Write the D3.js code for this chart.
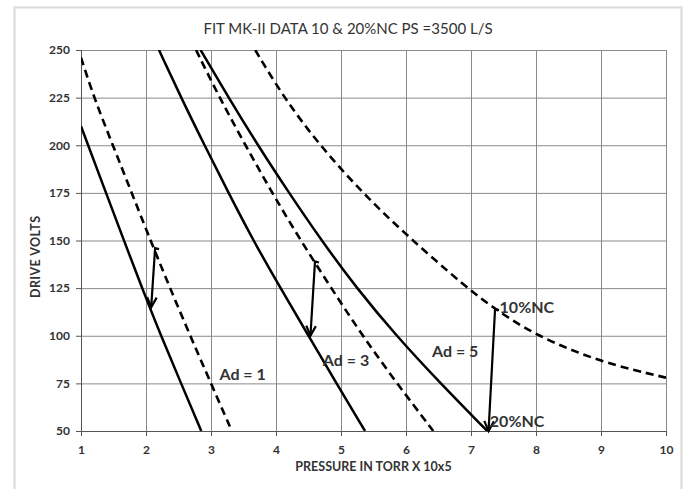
<!DOCTYPE html>
<html>
<head>
<meta charset="utf-8">
<script src="https://cdn.jsdelivr.net/npm/d3@7"></script>
<style>
  body { margin: 0; background: #fff; }
  text { font-family: Lato, "Open Sans", sans-serif; fill: #333; }
</style>
</head>
<body>
<svg width="688" height="489"></svg>
<script>
// tick values
var xTicks = [1, 2, 3, 4, 5, 6, 7, 8, 9, 10];
var yTicks = [50, 75, 100, 125, 150, 175, 200, 225, 250];

// curves  [pressure, volts]
var ad1Solid  = [[1,210],[1.33,180],[1.66,150],[1.94,125],[2.23,100],[2.54,75],[2.85,50]];
var ad1Dashed = [[1,246],[1.2,225],[1.49,200],[1.78,175],[2.07,150],[2.37,125],[2.68,100],[3.0,75],[3.32,50]];
var ad3Solid  = [[2.2,250],[2.54,225],[2.9,200],[3.27,175],[3.65,150],[4.07,125],[4.5,100],[4.93,75],[5.37,50]];
var ad3Dashed = [[2.77,250],[3.13,225],[3.53,200],[3.94,175],[4.38,150],[4.85,125],[5.33,100],[5.86,75],[6.42,50]];
var ad5Solid  = [[2.84,250],[3.27,225],[3.72,200],[4.2,175],[4.7,150],[5.24,125],[5.85,100],[6.53,75],[7.25,50]];
var ad5Dashed = [[3.68,250],[4.12,225],[4.67,200],[5.33,175],[6.0,153],[6.94,125],[7.37,114],[8.0,100],[9.0,86],[10,78]];

// arrows from 10%NC to 20%NC  [x1,y1,x2,y2]
var arrows = [[2.14,146,2.08,115],[4.6,139,4.53,100],[7.37,114,7.27,50]];

// labels [text, x, y]
var labels = [["Ad = 1",3.13,77],["Ad = 3",4.72,84],["Ad = 5",6.4,89],["10%NC",7.44,112],["20%NC",7.29,52]];

var svg = d3.select("svg");
var margin = {top: 50, left: 81};
var width = 585, height = 381;

// outer chart frame
svg.append("rect")
  .attr("x", 14.5).attr("y", 7.5)
  .attr("width", 667).attr("height", 500)
  .attr("fill", "none").attr("stroke", "#d9d9d9").attr("stroke-width", 2);

svg.append("text")
  .attr("x", 348).attr("y", 34)
  .attr("text-anchor", "middle")
  .style("font-size", "15px")
  .text("FIT MK-II DATA 10 & 20%NC PS =3500 L/S");

var xScale = d3.scaleLinear().domain([1, 10]).range([0, width]);
var yScale = d3.scaleLinear().domain([50, 250]).range([height, 0]);

var g = svg.append("g")
  .attr("transform", "translate(" + margin.left + "," + margin.top + ")");

// grid
g.append("g").selectAll("line").data(xTicks.slice(1)).enter().append("line")
  .attr("x1", function(d){ return xScale(d) + 0.5 }).attr("x2", function(d){ return xScale(d) + 0.5 })
  .attr("y1", 0).attr("y2", height)
  .attr("stroke", "#8a8a8a");
g.append("g").selectAll("line").data(yTicks.slice(1)).enter().append("line")
  .attr("y1", function(d){ return yScale(d) + 0.5 }).attr("y2", function(d){ return yScale(d) + 0.5 })
  .attr("x1", 0).attr("x2", width)
  .attr("stroke", "#8a8a8a");

// axes
var xAxis = d3.axisBottom(xScale).tickValues(xTicks).tickSize(5).tickFormat(d3.format("d"));
var yAxis = d3.axisLeft(yScale).tickValues(yTicks).tickSize(5);

var gX = g.append("g")
  .attr("transform", "translate(0," + height + ")")
  .call(xAxis);
var gY = g.append("g").call(yAxis);

[gX, gY].forEach(function(ax){
  ax.select(".domain").attr("stroke", "#555");
  ax.selectAll(".tick line").attr("stroke", "#555");
  ax.selectAll(".tick text")
    .style("font-family", "Lato, sans-serif")
    .style("font-size", "12px").style("font-weight", "bold").attr("fill", "#333");
});
gX.selectAll(".tick text").attr("dy", "1.25em");
gY.selectAll(".tick text").attr("dx", "-3px");

svg.append("text")
  .attr("transform", "translate(40,257) rotate(-90)")
  .attr("text-anchor", "middle")
  .attr("textLength", 82)
  .style("font-size", "12.5px").style("font-weight", "bold")
  .text("DRIVE VOLTS");

svg.append("text")
  .attr("x", margin.left + width/2).attr("y", 471)
  .attr("text-anchor", "middle")
  .style("font-size", "12.5px").style("font-weight", "bold")
  .text("PRESSURE IN TORR  X 10x5");

// clip curves to the plot
svg.append("defs").append("clipPath").attr("id", "clip")
  .append("rect").attr("width", width).attr("height", height);

var line = d3.line()
  .x(function(d){ return xScale(d[0]) })
  .y(function(d){ return yScale(d[1]) })
  .curve(d3.curveBasis);

var curves = g.append("g").attr("clip-path", "url(#clip)");
[ad1Solid, ad3Solid, ad5Solid].forEach(function(s){
  curves.append("path").datum(s)
    .attr("d", line).attr("fill", "none")
    .attr("stroke", "#000").attr("stroke-width", 2.5);
});
[ad1Dashed, ad3Dashed, ad5Dashed].forEach(function(s){
  curves.append("path").datum(s)
    .attr("d", line).attr("fill", "none")
    .attr("stroke", "#000").attr("stroke-width", 2.6)
    .attr("stroke-dasharray", "8,5");
});

// arrows
var ag = g.append("g");
arrows.forEach(function(a){
  var x1 = xScale(a[0]), y1 = yScale(a[1]), x2 = xScale(a[2]), y2 = yScale(a[3]);
  var ang = Math.atan2(y2 - y1, x2 - x1);
  var hl = 11, hw = 0.45;
  ag.append("path")
    .attr("d", "M" + (x1 + 4) + "," + (y1 + 1) + "L" + x1 + "," + y1 + "L" + x2 + "," + y2)
    .attr("fill", "none").attr("stroke", "#000").attr("stroke-width", 2.2);
  ag.append("path")
    .attr("d", "M" + (x2 - hl*Math.cos(ang - hw)) + "," + (y2 - hl*Math.sin(ang - hw)) +
               "L" + x2 + "," + y2 +
               "L" + (x2 - hl*Math.cos(ang + hw)) + "," + (y2 - hl*Math.sin(ang + hw)))
    .attr("fill", "none").attr("stroke", "#000").attr("stroke-width", 2.2);
});

// annotations
g.append("g").selectAll("text").data(labels).enter().append("text")
  .attr("x", function(d){ return xScale(d[1]) })
  .attr("y", function(d){ return yScale(d[2]) })
  .style("font-size", "16px").style("font-weight", "bold")
  .text(function(d){ return d[0] });
</script>
</body>
</html>
